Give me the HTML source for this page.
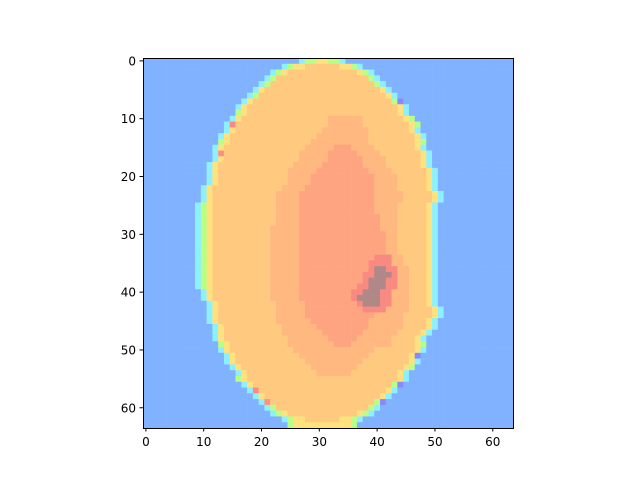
<!DOCTYPE html>
<html><head><meta charset="utf-8"><style>
html,body{margin:0;padding:0;background:#fff;}
svg text{font-family:"DejaVu Sans","Liberation Sans",sans-serif;font-size:12px;fill:#000;}
</style></head><body>
<svg id="chart" width="640" height="480" viewBox="0 0 640 480" xmlns="http://www.w3.org/2000/svg">
<g id="cells"></g>
<rect x="143.5" y="58.5" width="370" height="370" fill="none" stroke="#000" stroke-width="1"/>
<g id="axes"></g>
</svg>
<script>
const xTicks=[0,10,20,30,40,50,60];
const yTicks=[0,10,20,30,40,50,60];
const colorKey={b:"#80b2ff",c:"#8cf0ff",g:"#b8ff88",y:"#ffe27e",o:"#ffca80",m:"#ffb880",O:"#ffa480",r:"#ff9080",R:"#f88a82",k:"#b08888",v:"#8888ff"};
const rows=[
"b27,c1,g2,y2,g2,c1,b29",
"b24,c1,g1,y2,o6,y2,g1,c1,b26",
"b22,c1,g1,y1,o12,y1,g1,c1,b24",
"b21,c1,g1,o16,g1,c1,b23",
"b20,c1,g1,o18,g1,c1,b22",
"b19,c1,y1,o20,y1,c1,b21",
"b18,c1,g1,o22,y1,c1,b20",
"b17,c1,y1,o24,g1,v1,b19",
"b16,c1,y1,o26,y1,c1,b18",
"b16,g1,y1,o26,y1,c1,b18",
"b15,c1,y1,o15,m6,o7,y1,g1,b17",
"b14,c1,R1,o16,m6,o8,y1,g1,b16",
"b14,c1,y1,o15,m8,o7,y1,c1,b16",
"b13,c1,y1,o15,m9,o8,y1,c1,b15",
"b13,g1,y1,o14,m10,o8,y1,g1,b15",
"b12,c1,y1,o14,m5,O3,m4,o7,y1,c1,b15",
"b12,c1,r1,o13,m5,O5,m4,o7,y1,c1,b14",
"b12,c1,y1,o13,m5,O6,m4,o6,y1,c1,b14",
"b11,c1,y1,o13,m5,O7,m4,o6,y1,c1,b14",
"b11,c1,y1,o12,m5,O9,m4,o6,y1,c1,b13",
"b11,c1,y1,o12,m4,O11,m4,o5,y1,c1,b13",
"b11,c1,y1,o12,m4,O11,m4,o5,y1,c1,b13",
"b10,c1,y1,o12,m4,O12,m4,o5,y1,c1,b13",
"b10,c1,y1,o11,m4,O13,m5,o5,y1,c1,b12",
"b10,c1,y1,o11,m4,O13,m5,o5,y1,c1,b12",
"b9,c1,g1,y1,o11,m4,O13,m4,o5,y1,c1,b13",
"b9,c1,g1,y1,o11,m4,O13,m4,o5,y1,c1,b13",
"b9,c1,g1,y1,o11,m4,O14,m3,o5,y1,c1,b13",
"b9,c1,g1,y1,o11,m4,O14,m3,o5,y1,c1,b13",
"b9,c1,g1,y1,o10,m5,O14,m3,o5,y1,c1,b13",
"b9,c1,g1,y1,o10,m5,O15,m2,o5,y1,c1,b13",
"b9,c1,g1,y1,o10,m5,O15,m2,o5,y1,c1,b13",
"b9,c1,g1,y1,o10,m5,O15,m2,o5,y1,c1,b13",
"b9,c1,g1,y1,o10,m5,O15,m2,o5,y1,c1,b13",
"b9,c1,g1,y1,o10,m5,O13,R3,m2,o4,y1,c1,b13",
"b9,c1,g1,y1,o10,m5,O12,R4,m2,o4,y1,c1,b13",
"b9,c1,g1,y1,o10,m5,O12,R1,k2,R2,m2,o3,y1,c1,b13",
"b9,c1,g1,y1,o10,m5,O11,R2,k3,R1,m2,o3,y1,c1,b13",
"b9,c1,g1,y1,o10,m5,O11,R1,k3,R2,m2,o3,y1,c1,b13",
"b9,c1,g1,y1,o10,m5,O10,R2,k3,R2,m2,o3,y1,c1,b13",
"b10,c1,y1,o10,m5,O9,R2,k3,R2,m3,o3,y1,c1,b12",
"b10,c1,y1,o10,m5,O9,R1,k4,R2,m3,o3,y1,c1,b12",
"b11,c1,y1,o10,m5,O9,R1,k3,R2,m3,o3,y1,c1,b13",
"b11,c1,y1,o10,m5,O10,R4,m4,o4,y1,c1,b13",
"b11,c1,y1,o10,m5,O12,m5,o5,y1,c1,b13",
"b11,c1,y1,o10,m6,O10,m6,o4,y1,c1,b14",
"b12,c1,y1,o10,m6,O9,m6,o4,y1,c1,b14",
"b12,c1,y1,o10,m7,O7,m6,o4,y1,c1,b14",
"b12,c1,y1,o11,m7,O5,m6,o4,y1,c1,b15",
"b13,g1,y1,o10,m8,O3,m7,o4,y1,g1,b15",
"b13,c1,y1,o11,m14,o7,y1,c1,b15",
"b14,c1,y1,o11,m12,o7,y1,v1,b16",
"b14,c1,y1,o12,m10,o8,y1,c1,b16",
"b15,c1,y1,o12,m8,o8,y1,g1,b17",
"b16,c1,y1,o12,m6,o8,y1,c1,b18",
"b16,g1,y1,o26,y1,c1,b18",
"b17,c1,y1,o24,g1,v1,b19",
"b18,c1,R1,o22,y1,c1,b20",
"b19,c1,y1,o20,y1,c1,b21",
"b20,c1,r1,o18,g1,v1,b22",
"b21,c1,g1,o16,g1,c1,b23",
"b22,c1,g1,y1,o12,y1,g1,c1,b24",
"b24,c1,g1,y2,o6,y2,g1,c1,b26",
"b25,g1,y10,g1,b27"
];
const N=64, X0=143, Y0=58, W=370;
const cs=W/N;
function xs(v){return X0+(v+0.5)*cs;}
function ys(v){return Y0+(v+0.5)*cs;}
const NS="http://www.w3.org/2000/svg";
const cells=document.getElementById('cells');
function addCell(col,ri,k){
  const r=document.createElementNS(NS,'rect');
  
  
  r.setAttribute('x',(xs(col)-cs/2).toFixed(2));
  r.setAttribute('y',(ys(ri)-cs/2).toFixed(2));
  r.setAttribute('width',(cs+0.3).toFixed(2));
  r.setAttribute('height',(cs+0.3).toFixed(2));
  r.setAttribute('fill',colorKey[k]);
  cells.appendChild(r);
}
rows.forEach((row,ri)=>{
  let col=0;
  row.split(',').forEach(tok=>{
    const k=tok[0], n=parseInt(tok.slice(1));
    for(let i=0;i<n && col<N;i++,col++){ addCell(col,ri,k); }
  });
  while(col<N){ addCell(col,ri,'b'); col++; }
});
const axes=document.getElementById('axes');
xTicks.forEach(t=>{
  const x=xs(t);
  const l=document.createElementNS(NS,'line');
  
  
  l.setAttribute('x1',x);l.setAttribute('x2',x);
  l.setAttribute('y1',Y0+W);l.setAttribute('y2',Y0+W+3.5);
  l.setAttribute('stroke','#000');
  axes.appendChild(l);
  const tx=document.createElementNS(NS,'text');
  
  
  tx.setAttribute('x',x);tx.setAttribute('y',Y0+W+18);
  tx.setAttribute('text-anchor','middle');
  tx.textContent=t;
  axes.appendChild(tx);
});
yTicks.forEach(t=>{
  const y=ys(t);
  const l=document.createElementNS(NS,'line');
  
  
  l.setAttribute('x1',X0-3.5);l.setAttribute('x2',X0);
  l.setAttribute('y1',y);l.setAttribute('y2',y);
  l.setAttribute('stroke','#000');
  axes.appendChild(l);
  const tx=document.createElementNS(NS,'text');
  
  
  tx.setAttribute('x',X0-7);tx.setAttribute('y',y+4.5);
  tx.setAttribute('text-anchor','end');
  tx.textContent=t;
  axes.appendChild(tx);
});
</script>
</body></html>
